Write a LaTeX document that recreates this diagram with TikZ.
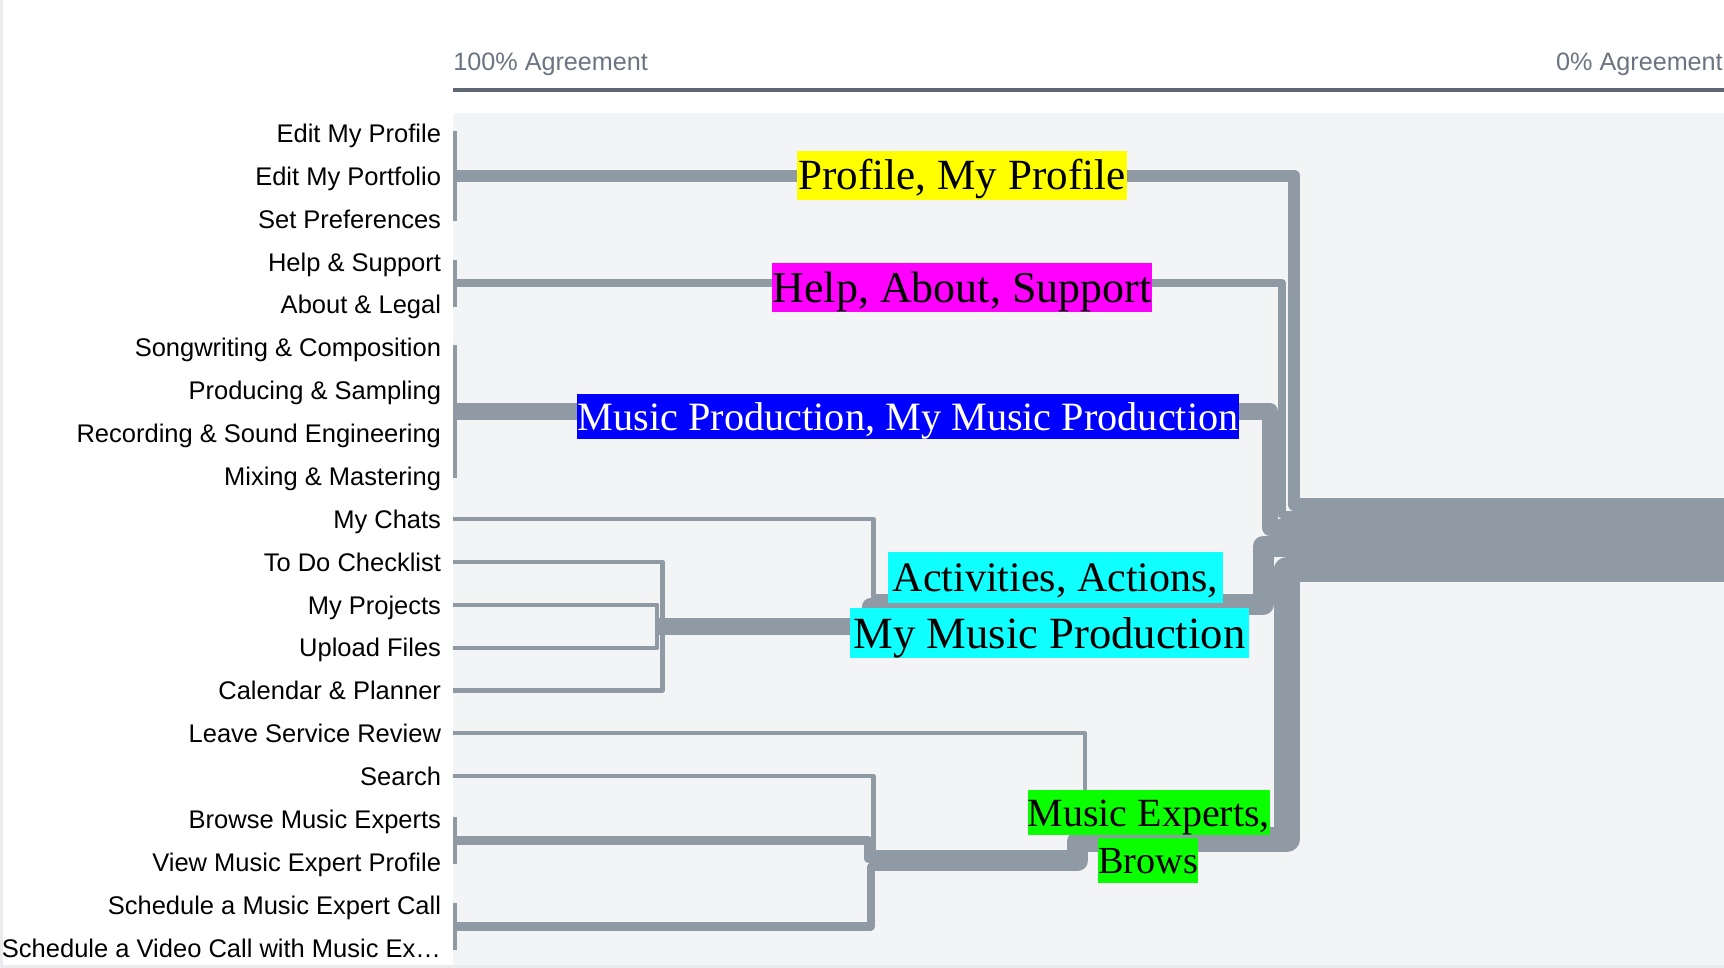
\documentclass[tikz,border=0pt]{standalone}
\usepackage{fontspec}
\setmainfont{Liberation Serif}
\setsansfont{Liberation Sans}
\usepackage{xcolor}

\definecolor{panelbg}{HTML}{F3F4F6}
\definecolor{axisline}{HTML}{5E6873}
\definecolor{axistext}{HTML}{6B7480}
\definecolor{dendro}{HTML}{8F9AA5}
\definecolor{edgegray}{HTML}{E9EBEE}
\definecolor{hlyellow}{HTML}{FFFF00}
\definecolor{hlmagenta}{HTML}{FF00FF}
\definecolor{hlblue}{HTML}{0000FF}
\definecolor{hlcyan}{HTML}{10FFFF}
\definecolor{hlgreen}{HTML}{0AFF00}

\newcommand\clsize[1]{\fontsize{#1}{#1}\selectfont}
\newcommand\clstrut{\rule[-0.216em]{0pt}{1.107em}}

\tikzset{
  rowlabel/.style={anchor=base east, inner sep=0pt, font=\sffamily\fontsize{11.6}{13}\selectfont},
  axislabel/.style={anchor=base west, inner sep=0pt, text=axistext, font=\sffamily\fontsize{11.45}{13}\selectfont},
  branch/.style={draw=dendro, line width=#1*1.9pt, line join=round},
  pairbar/.style={draw=dendro, line width=1.9pt, line cap=rect},
  clabel/.style={inner sep=0pt, text=black},
}

\begin{document}
\begin{tikzpicture}[x=0.5pt, y=-0.5pt]
				\useasboundingbox (0,0) rectangle (1568,880);
				\fill[white] (0,0) rectangle (1568,880);
				\fill[panelbg] (412,103) rectangle (1568,880);
				\fill[edgegray] (0,0) rectangle (2.5,880);
				\fill[edgegray] (0,878) rectangle (1568,880);
				
				% agreement axis
				\draw[axisline, line width=2.1pt] (412,82) -- (1568,82);
				\node[axislabel] (agree100) at (412,63.7) {100\% Agreement};
				\node[axislabel] (agree0) at (1415,63.7) {0\% Agreement};
				
				% cards, one per row
				\coordinate (bar) at (414,0);
				\foreach \txt [count=\i from 0] in {Edit My Profile, Edit My Portfolio, Set Preferences,
					Help \& Support, About \& Legal, Songwriting \& Composition, Producing \& Sampling,
					Recording \& Sound Engineering, Mixing \& Mastering, My Chats, To Do Checklist,
					My Projects, Upload Files, Calendar \& Planner, Leave Service Review, Search,
					Browse Music Experts, View Music Expert Profile, Schedule a Music Expert Call,
					Schedule a Video Call with Music Ex…} {
					\node[rowlabel] (row\i) at (401.5,129.5+39*\i) {\txt};
					\coordinate (r\i) at (412,121+39*\i);
				}
				
				% merges at full agreement
				\draw[pairbar] (r0 -| bar) -- (r2 -| bar);
				\draw[pairbar] (r3 -| bar) -- (r4 -| bar);
				\draw[pairbar] (r5 -| bar) -- (r8 -| bar);
				\draw[pairbar] (r16 -| bar) -- (r17 -| bar);
				\draw[pairbar] (r18 -| bar) -- (r19 -| bar);
				
				% activities group
				\draw[branch=1] (r10) -- (602.5,511) -- (602.5,628) -- (r13);
				\draw[branch=1] (r11) -- (597.7,550) -- (597.7,589) -- (r12);
				\draw[branch=4] (597.5,569.5) -- (792,569.5) -- (792,551.4) -- (800,551.4);
				\draw[branch=1] (r9) -- (794.5,472) -- (794.5,541.9) -- (800,541.9);
				
				% music experts group
				\draw[branch=1] (r15) -- (794.5,706) -- (794.5,775.4) -- (800,775.4);
				\draw[branch=2] (414,764.5) -- (790,764.5) -- (790,781.1) -- (800,781.1);
				\draw[branch=2] (414,842.5) -- (792,842.5) -- (792,788.7) -- (800,788.7);
				\draw[branch=5] (790,783) -- (980,783) -- (980,765.3) -- (990,765.3);
				\draw[branch=1] (r14) -- (987,667) -- (987,756);
				
				% into the trunk
				\draw[branch=6] (980,763.5) -- (1170.5,763.5) -- (1170.5,517.6) -- (1568,517.6);
				\draw[branch=5] (792,549.5) -- (1149,549.5) -- (1149,496.7) -- (1568,496.7);
				\draw[branch=4] (414,374.5) -- (1155,374.5) -- (1155,479.6) -- (1568,479.6);
				\draw[branch=2] (414,257.5) -- (1166,257.5) -- (1166,468.2) -- (1568,468.2);
				\draw[branch=3] (414,160) -- (1177,160) -- (1177,458.7) -- (1568,458.7);
				
				% cluster names
				\node[clabel, fill=hlyellow, minimum width=150pt, minimum height=22.5pt, font=\clsize{19.6}] (lblProfile) at (875,159.5) {\clstrut Profile, My Profile};
				\node[clabel, fill=hlmagenta, minimum width=173pt, minimum height=22.5pt, font=\clsize{20}] (lblHelp) at (875,261.5) {\clstrut Help, About, Support};
				\node[clabel, fill=hlblue, text=white, minimum width=301pt, minimum height=20.5pt, font=\clsize{18.3}] (lblProduction) at (826,379) {\clstrut Music Production, My Music Production};
				\node[clabel, fill=hlcyan, minimum width=152.75pt, minimum height=23.3pt, font=\clsize{19.1}] (lblActivities) at (960,525.3) {\clstrut Activities, Actions,\ };
				\node[clabel, fill=hlcyan, minimum width=181.5pt, minimum height=22.75pt, font=\clsize{20.3}] (lblActivitiesB) at (954.5,575.8) {\clstrut My Music Production};
				\node[clabel, fill=hlgreen, minimum width=109.25pt, minimum height=20.5pt, font=\clsize{18.2}] (lblExperts) at (1044.75,739) {\clstrut Music Experts,};
				\node[clabel, fill=hlgreen, minimum width=45.5pt, minimum height=20.5pt, font=\clsize{17.4}] (lblExpertsB) at (1044.5,782.5) {\clstrut Brows};
			\end{tikzpicture}
\end{document}
